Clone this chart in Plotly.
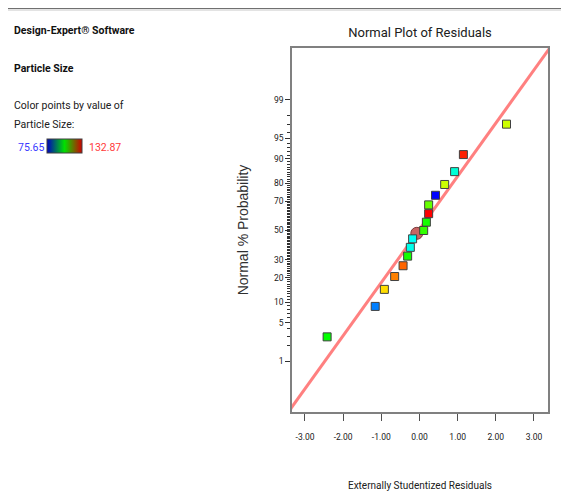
import plotly.graph_objects as go
from statistics import NormalDist

# ---------------- data ----------------
residuals = [-2.42, -1.16, -0.92, -0.65, -0.43, -0.31, -0.24, -0.18, 0.11,
             0.18, 0.24, 0.24, 0.42, 0.66, 0.92, 1.15, 2.28]
normal_prob = [2.9, 8.8, 14.7, 20.6, 26.5, 32.4, 38.2, 44.1, 50.0,
               55.9, 61.8, 67.6, 73.5, 79.4, 85.3, 91.2, 97.1]
particle_size = [104.3, 82.8, 120.5, 125.7, 127.2, 105.4, 91.1, 90.5, 107.1,
                 105.4, 132.9, 110.0, 75.7, 115.7, 92.2, 131.2, 115.7]
highlight_residual = [-0.07]
highlight_prob = [48.0]
fit_line_x = [-3.6, 3.6]
fit_line_slope = 0.947       # probit units per residual unit
fit_line_intercept = 0.02
prob_tick_vals = [1, 5, 10, 20, 30, 50, 70, 80, 90, 95, 99]
prob_minor_vals = [p for p in range(2, 99) if p not in prob_tick_vals]
x_tick_vals = [-3, -2, -1, 0, 1, 2, 3]
x_tick_text = ["-3.00", "-2.00", "-1.00", "0.00", "1.00", "2.00", "3.00"]
size_min, size_max = 75.65, 132.87

nd = NormalDist()
def probit(p):
    return nd.inv_cdf(p / 100.0)

# ---------------- layout helpers (page pixel -> paper) ----------------
OFF = 8                      # default page body margin
W, H = 569 - OFF, 496 - OFF
L, R, T, B = 292 - OFF, 548 - OFF, 48 - OFF, 412 - OFF
def px(x):
    return (x - OFF - L) / (R - L)
def py(y):
    return (B - (y - OFF)) / (B - T)

NARROW = "Roboto, sans-serif"
REG = "Liberation Sans, Arial, sans-serif"

point_scale = [[0, "#0000ff"], [0.25, "#00ffff"], [0.5, "#00ff00"],
               [0.75, "#ffff00"], [1, "#ff0000"]]
legend_scale = [[0, "#0000c0"], [0.5, "#00e000"], [1, "#d00000"]]

fig = go.Figure()

# fitted line
fig.add_trace(go.Scatter(
    x=fit_line_x,
    y=[fit_line_intercept + fit_line_slope * v for v in fit_line_x],
    mode="lines", line=dict(color="#ff8080", width=3),
    hoverinfo="skip", showlegend=False))

# highlighted circle
fig.add_trace(go.Scatter(
    x=highlight_residual, y=[probit(p) for p in highlight_prob],
    mode="markers",
    marker=dict(symbol="circle", size=12, color="#c86464",
                line=dict(color="#7a3a3a", width=1)),
    showlegend=False))

# residual points
fig.add_trace(go.Scatter(
    x=residuals, y=[probit(p) for p in normal_prob],
    mode="markers",
    marker=dict(symbol="square", size=8, color=particle_size,
                colorscale=point_scale, cmin=size_min, cmax=size_max,
                showscale=False, line=dict(color="#404040", width=1)),
    showlegend=False))

# legend colour bar (dummy trace)
fig.add_trace(go.Scatter(
    x=[None], y=[None], mode="markers",
    marker=dict(color=[size_min, size_max], colorscale=legend_scale,
                cmin=size_min, cmax=size_max, showscale=True,
                colorbar=dict(orientation="h", x=px(47), xanchor="left",
                              y=py(154), yanchor="bottom", len=35,
                              lenmode="pixels", thickness=14,
                              outlinewidth=1, outlinecolor="#404040",
                              showticklabels=False, ticks="",
                              xpad=0, ypad=0)),
    hoverinfo="skip", showlegend=False))

fig.update_xaxes(
    range=[-3.34, 3.367], tickmode="array", tickvals=x_tick_vals,
    ticktext=x_tick_text, ticks="outside", ticklen=7, tickcolor="#505050",
    tickfont=dict(family=NARROW, size=8.5, color="#202020"),
    ticklabelstandoff=9, automargin=False,
    showline=True, linecolor="#808080", linewidth=1.5, mirror=True,
    showgrid=False, zeroline=False,
    title=dict(text="Externally Studentized Residuals",
               font=dict(family=NARROW, size=10, color="#202020"),
               standoff=41))

fig.update_yaxes(
    range=[-3.235, 3.253], tickmode="array",
    tickvals=[probit(p) for p in prob_tick_vals],
    ticktext=[str(p) for p in prob_tick_vals],
    ticks="outside", ticklen=5, tickcolor="#303030",
    tickfont=dict(family=NARROW, size=8.5, color="#202020"),
    minor=dict(tickmode="array", tickvals=[probit(p) for p in prob_minor_vals],
               ticks="outside", ticklen=3, tickcolor="#303030"),
    automargin=False,
    showline=True, linecolor="#808080", linewidth=1.5, mirror=True,
    showgrid=False, zeroline=False,
    title=dict(text="Normal % Probability",
               font=dict(family=REG, size=14, color="#303030"),
               standoff=22))

annotations = [
    dict(text="<b>Design-Expert® Software</b>", x=px(12), y=py(31),
         font=dict(family=NARROW, size=10.5, color="#101010")),
    dict(text="<b>Particle Size</b>", x=px(12), y=py(68),
         font=dict(family=NARROW, size=10.5, color="#101010")),
    dict(text="Color points by value of", x=px(12), y=py(105),
         font=dict(family=NARROW, size=10.5, color="#202020")),
    dict(text="Particle Size:", x=px(12), y=py(124),
         font=dict(family=NARROW, size=10.5, color="#202020")),
    dict(text="75.65", x=px(16), y=py(147),
         font=dict(family=NARROW, size=10.5, color="#3a3aff")),
    dict(text="132.87", x=px(87), y=py(147),
         font=dict(family=NARROW, size=10.5, color="#ff3a3a")),
]
for a in annotations:
    a.update(xref="paper", yref="paper", xanchor="left", yanchor="middle",
             showarrow=False)

shapes = [
    dict(type="line", xref="paper", yref="paper", x0=px(4.5), x1=px(575),
         y0=py(8), y1=py(8), line=dict(color="#404040", width=1.5)),
    dict(type="line", xref="paper", yref="paper", x0=px(4.5), x1=px(575),
         y0=py(10), y1=py(10), line=dict(color="#c8c8c8", width=1)),
    dict(type="line", xref="paper", yref="paper", x0=px(4.5), x1=px(4.5),
         y0=py(8), y1=py(500), line=dict(color="#707070", width=2)),
]

fig.update_layout(
    width=W, height=H,
    margin=dict(l=L, r=W - R, t=T, b=H - B, pad=0, autoexpand=False),
    paper_bgcolor="white", plot_bgcolor="white",
    title=dict(text="Normal Plot of Residuals", x=px(420), xref="paper",
               xanchor="center", y=1 - (32 - OFF) / H, yanchor="middle",
               font=dict(family=NARROW, size=13, color="#202020")),
    annotations=annotations, shapes=shapes,
)

fig.write_html("out.html")
